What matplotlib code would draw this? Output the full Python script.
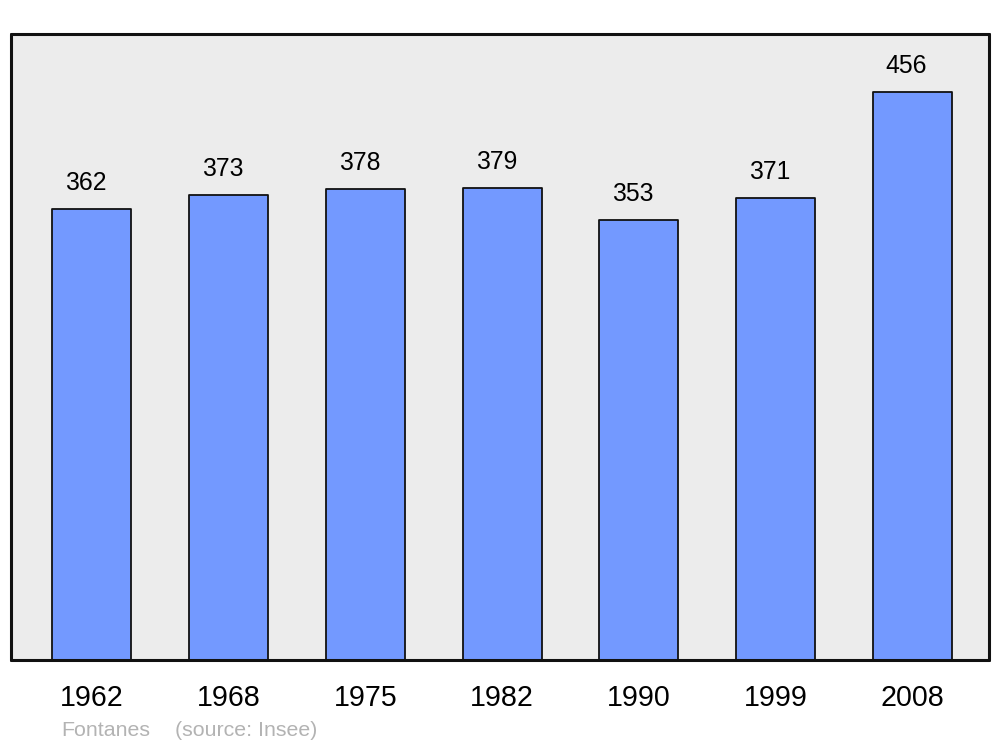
import matplotlib
matplotlib.use("Agg")
import matplotlib.pyplot as plt

years = ["1962", "1968", "1975", "1982", "1990", "1999", "2008"]
population = [362, 373, 378, 379, 353, 371, 456]
commune = "Fontanes"
source = "(source: Insee)"

plt.rcParams['font.family'] = ['Liberation Sans', 'DejaVu Sans']

fig = plt.figure(figsize=(10, 7.47), dpi=100)
ax = fig.add_axes([0.011, 1 - 660 / 747, 0.978, (660 - 34) / 747])
ax.set_facecolor('#ececec')

x = list(range(len(years)))
bars = ax.bar(x, population, width=0.578, color='#7399ff', edgecolor='#111111',
              linewidth=1.3, zorder=2)
for b in bars:
    b.set_joinstyle('round')

for xi, v in zip(x, population):
    ax.annotate(str(v), xy=(xi, v), xytext=(-4.3, 18.8), textcoords='offset points',
                ha='center', va='center', fontsize=17.8, color='black')

ax.set_xlim(-0.592, 6.56)
ax.set_ylim(0, 502.5)
ax.set_xticks(x)
ax.set_xticklabels(years, fontsize=20.6)
ax.tick_params(axis='x', length=0, pad=17)
ax.set_yticks([])
for s in ax.spines.values():
    s.set_linewidth(2.2)
    s.set_color('#111111')
    s.set_joinstyle('round')
    s.set_capstyle('round')

fig.text(0.061, 1 - 730 / 747, commune, fontsize=15.4, color='#b3b3b3', ha='left', va='center')
fig.text(0.175, 1 - 730 / 747, source, fontsize=15.4, color='#b3b3b3', ha='left', va='center')

fig.savefig('out.png', dpi=100)
